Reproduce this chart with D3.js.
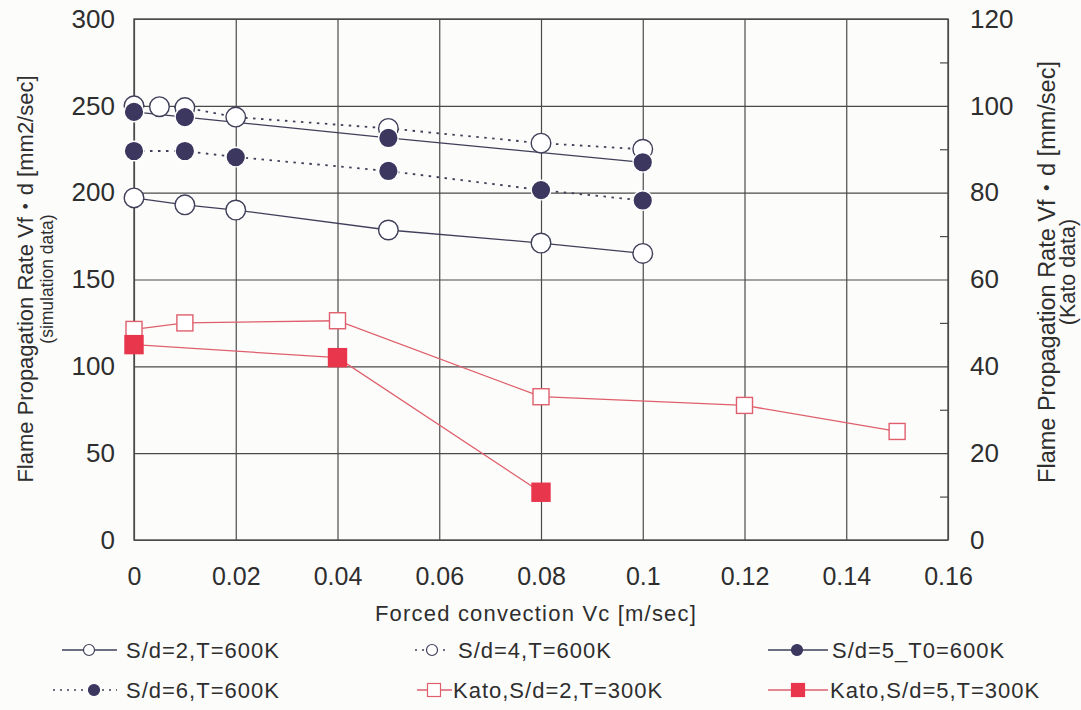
<!DOCTYPE html>
<html>
<head>
<meta charset="utf-8">
<script src="https://cdn.jsdelivr.net/npm/d3@7/dist/d3.min.js"></script>
<style>
  html, body { margin: 0; padding: 0; background: #fcfcfb; }
  svg { display: block; }
  text { font-family: "Liberation Sans", Arial, "Noto Sans CJK JP", sans-serif; fill: #2e2e2e; }
</style>
</head>
<body>
<svg id="chart" width="1081" height="710"></svg>
<script>
// Axis ticks
const xTicks = [0, 0.02, 0.04, 0.06, 0.08, 0.1, 0.12, 0.14, 0.16];
const xTickLabels = ["0", "0.02", "0.04", "0.06", "0.08", "0.1", "0.12", "0.14", "0.16"];
const yLeftTicks = [0, 50, 100, 150, 200, 250, 300];
const yLeftTickLabels = ["0", "50", "100", "150", "200", "250", "300"];
const yRightTicks = [0, 20, 40, 60, 80, 100, 120];
const yRightTickLabels = ["0", "20", "40", "60", "80", "100", "120"];
const yRightMinorTicks = [10, 30, 50, 70, 90, 110];

// Simulation data, Vf·d [mm2/sec] (left axis)
const sd2Vc = [0, 0.01, 0.02, 0.05, 0.08, 0.1];
const sd2Rate = [197, 193, 190, 178.5, 171, 165];
const sd4Vc = [0, 0.005, 0.01, 0.02, 0.05, 0.08, 0.1];
const sd4Rate = [250, 249.5, 249, 243.5, 237, 228.5, 225];
const sd5Vc = [0, 0.01, 0.05, 0.1];
const sd5Rate = [246.5, 243.5, 231.5, 217.5];
const sd6Vc = [0, 0.01, 0.02, 0.05, 0.08, 0.1];
const sd6Rate = [224, 224, 220.5, 212.5, 201.5, 195.5];

// Kato data, Vf·d [mm/sec] (right axis)
const kato2Vc = [0, 0.01, 0.04, 0.08, 0.12, 0.15];
const kato2Rate = [48.5, 50, 50.5, 33, 31, 25];
const kato5Vc = [0, 0.04, 0.08];
const kato5Rate = [45, 42, 11];

const seriesNames = ["S/d=2,T=600K", "S/d=4,T=600K", "S/d=5_T0=600K",
                     "S/d=6,T=600K", "Kato,S/d=2,T=300K", "Kato,S/d=5,T=300K"];

const NAVY = "#3b375f";
const LINE = "#3f3f5a";
const RED = "#e8364c";
const RED_LINE = "#df5f6c";
const GRID = "#4a4a4a";

const svg = d3.select("#chart");
const m = { left: 134, right: 948, top: 19, bottom: 540 };

const x = d3.scaleLinear().domain([0, 0.16]).range([m.left, m.right]);
const yL = d3.scaleLinear().domain([0, 300]).range([m.bottom, m.top]);
const yR = d3.scaleLinear().domain([0, 120]).range([m.bottom, m.top]);

// Grid: vertical lines at x ticks, horizontal at left ticks
svg.append("g")
  .attr("transform", `translate(0,${m.bottom})`)
  .call(d3.axisBottom(x).tickValues(xTicks).tickSize(-(m.bottom - m.top)).tickFormat(""))
  .call(g => g.select(".domain").remove())
  .call(g => g.selectAll("line").attr("stroke", GRID).attr("stroke-width", 1.2));
svg.append("g")
  .attr("transform", `translate(${m.left},0)`)
  .call(d3.axisLeft(yL).tickValues(yLeftTicks).tickSize(-(m.right - m.left)).tickFormat(""))
  .call(g => g.select(".domain").remove())
  .call(g => g.selectAll("line").attr("stroke", GRID).attr("stroke-width", 1.2));

// Right axis minor ticks (inward)
svg.append("g")
  .attr("transform", `translate(${m.right},0)`)
  .call(d3.axisLeft(yR).tickValues(yRightMinorTicks).tickSize(8).tickFormat(""))
  .call(g => g.select(".domain").remove())
  .call(g => g.selectAll("line").attr("stroke", GRID).attr("stroke-width", 1.2));

// Plot border
svg.append("rect")
  .attr("x", m.left).attr("y", m.top)
  .attr("width", m.right - m.left).attr("height", m.bottom - m.top)
  .attr("fill", "none").attr("stroke", GRID).attr("stroke-width", 1.4);

// Tick labels
svg.append("g")
  .attr("transform", `translate(0,${m.bottom})`)
  .call(d3.axisBottom(x).tickValues(xTicks).tickSize(0).tickPadding(45)
        .tickFormat((d, i) => xTickLabels[i]))
  .call(g => g.select(".domain").remove())
  .call(g => g.selectAll("text").attr("font-size", 25).attr("dy", null)
        .attr("y", 45).attr("fill", "#2e2e2e").attr("font-family", "Liberation Sans, Arial, sans-serif"));
svg.append("g")
  .attr("transform", `translate(${m.left},0)`)
  .call(d3.axisLeft(yL).tickValues(yLeftTicks).tickSize(0).tickPadding(19)
        .tickFormat((d, i) => yLeftTickLabels[i]))
  .call(g => g.select(".domain").remove())
  .call(g => g.selectAll("text").attr("font-size", 26).attr("fill", "#2e2e2e")
        .attr("font-family", "Liberation Sans, Arial, sans-serif"));
svg.append("g")
  .attr("transform", `translate(${m.right},0)`)
  .call(d3.axisRight(yR).tickValues(yRightTicks).tickSize(0).tickPadding(22)
        .tickFormat((d, i) => yRightTickLabels[i]))
  .call(g => g.select(".domain").remove())
  .call(g => g.selectAll("text").attr("font-size", 26).attr("fill", "#2e2e2e")
        .attr("font-family", "Liberation Sans, Arial, sans-serif"));

// Axis titles
svg.append("text")
  .attr("x", 536).attr("y", 621)
  .attr("text-anchor", "middle")
  .attr("font-size", 22).attr("letter-spacing", 1.2)
  .text("Forced convection Vc [m/sec]");

const leftTitle = svg.append("g").attr("transform", "translate(25,279) rotate(-90)");
leftTitle.append("text").attr("text-anchor", "middle").attr("dominant-baseline", "central")
  .attr("font-size", 22).text("Flame Propagation Rate Vf・d [mm2/sec]");
leftTitle.append("text").attr("y", 22).attr("text-anchor", "middle").attr("dominant-baseline", "central")
  .attr("font-size", 17.5).text("(simulation data)");

const rightTitle = svg.append("g").attr("transform", "translate(1047,272) rotate(-90)");
rightTitle.append("text").attr("text-anchor", "middle").attr("dominant-baseline", "central")
  .attr("font-size", 23.5).text("Flame Propagation Rate Vf・d [mm/sec]");
rightTitle.append("text").attr("y", 21).attr("text-anchor", "middle").attr("dominant-baseline", "central")
  .attr("font-size", 21.5).text("(Kato data)");

// Series drawing helpers
const zip = (xs, ys) => xs.map((v, i) => [v, ys[i]]);
const plot = svg.append("g");

function drawLine(pts, yScale, color, width, dash) {
  plot.append("path")
    .datum(pts)
    .attr("fill", "none")
    .attr("stroke", color)
    .attr("stroke-width", width)
    .attr("stroke-dasharray", dash || null)
    .attr("d", d3.line().x(d => x(d[0])).y(d => yScale(d[1])));
}
function drawCircles(pts, yScale, fill, stroke) {
  plot.append("g").selectAll("circle").data(pts).join("circle")
    .attr("cx", d => x(d[0])).attr("cy", d => yScale(d[1])).attr("r", 9.8)
    .attr("fill", fill).attr("stroke", stroke).attr("stroke-width", 1.4);
}
function drawSquares(pts, yScale, size, fill, stroke) {
  plot.append("g").selectAll("rect").data(pts).join("rect")
    .attr("x", d => x(d[0]) - size / 2).attr("y", d => yScale(d[1]) - size / 2)
    .attr("width", size).attr("height", size)
    .attr("fill", fill).attr("stroke", stroke).attr("stroke-width", 1.4);
}

const sd2 = zip(sd2Vc, sd2Rate), sd4 = zip(sd4Vc, sd4Rate),
      sd5 = zip(sd5Vc, sd5Rate), sd6 = zip(sd6Vc, sd6Rate),
      k2 = zip(kato2Vc, kato2Rate), k5 = zip(kato5Vc, kato5Rate);

// Lines first, markers on top
drawLine(sd2, yL, LINE, 1.3);
drawLine(sd4, yL, LINE, 1.8, "2.5,5.5");
drawLine(sd5, yL, LINE, 1.3);
drawLine(sd6, yL, LINE, 1.8, "2.5,5.5");
drawLine(k2, yR, RED_LINE, 1.3);
drawLine(k5, yR, RED_LINE, 1.3);

drawCircles(sd2, yL, "#ffffff", LINE);
drawCircles(sd4, yL, "#ffffff", LINE);
drawCircles(sd6, yL, NAVY, "#ffffff");
drawCircles(sd5, yL, NAVY, "#ffffff");
drawSquares(k2, yR, 16, "#ffffff", RED_LINE);
drawSquares(k5, yR, 18, RED, RED);

// Legend
const legendItems = [
  { name: seriesNames[0], cx: 89,  ty: 650, tx: 126, kind: "circle", fill: "#fff", stroke: LINE, dash: null, color: LINE, x0: 62,  x1: 117 },
  { name: seriesNames[1], cx: 432, ty: 650, tx: 458, kind: "circle", fill: "#fff", stroke: LINE, dash: "2,5", color: LINE, x0: 415, x1: 449 },
  { name: seriesNames[2], cx: 797, ty: 650, tx: 832, kind: "circle", fill: NAVY, stroke: NAVY, dash: null, color: LINE, x0: 768, x1: 828 },
  { name: seriesNames[3], cx: 94,  ty: 690, tx: 126, kind: "circle", fill: NAVY, stroke: NAVY, dash: "2,5", color: LINE, x0: 53,  x1: 117 },
  { name: seriesNames[4], cx: 434, ty: 690, tx: 453, kind: "square", fill: "#fff", stroke: RED_LINE, dash: null, color: RED_LINE, x0: 417, x1: 452 },
  { name: seriesNames[5], cx: 798, ty: 690, tx: 830, kind: "square", fill: RED, stroke: RED, dash: null, color: RED_LINE, x0: 768, x1: 828 }
];
const lg = svg.append("g");
legendItems.forEach(it => {
  lg.append("line")
    .attr("x1", it.x0).attr("x2", it.x1).attr("y1", it.ty).attr("y2", it.ty)
    .attr("stroke", it.color).attr("stroke-width", it.dash ? 1.6 : 1.3)
    .attr("stroke-dasharray", it.dash);
  if (it.kind === "circle") {
    lg.append("circle").attr("cx", it.cx).attr("cy", it.ty).attr("r", 5.5)
      .attr("fill", it.fill).attr("stroke", it.stroke).attr("stroke-width", 1.2);
  } else {
    lg.append("rect").attr("x", it.cx - 6.5).attr("y", it.ty - 6.5)
      .attr("width", 13).attr("height", 13)
      .attr("fill", it.fill).attr("stroke", it.stroke).attr("stroke-width", 1.2);
  }
  lg.append("text")
    .attr("x", it.tx).attr("y", it.ty).attr("dy", "0.36em")
    .attr("font-size", 22).attr("letter-spacing", 1)
    .text(it.name);
});
</script>
</body>
</html>
